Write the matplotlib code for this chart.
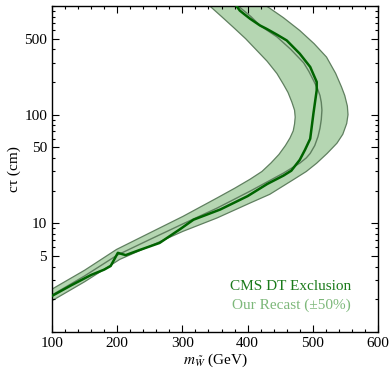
import matplotlib
matplotlib.use("Agg")
import matplotlib.pyplot as plt
from matplotlib.ticker import FixedLocator, LogLocator, NullFormatter, MultipleLocator

plt.rcParams['font.family'] = ['Liberation Serif', 'DejaVu Serif']
plt.rcParams['mathtext.fontset'] = 'stix'

# CMS DT exclusion contour (mass GeV, ctau cm)
cms_m = [100, 130, 160, 180, 190, 201, 213, 235, 265, 296, 317, 358, 400, 430, 455, 467,
         480, 488, 496, 501, 506, 506, 496, 480, 460, 445, 429, 419, 404, 395, 388, 383, 380]
cms_ct = [2.15, 2.7, 3.35, 3.75, 4.05, 5.35, 5.1, 5.7, 6.6, 8.8, 10.8, 13.4, 17.8, 23.0, 27.5, 30.5,
          38.4, 47.4, 60, 103, 168, 200, 275, 364, 482, 545, 617, 662, 762, 840, 908, 1000, 1100]

# Recast band: inner (upper-left) edge and outer (lower-right) edge
inner_m = [100, 150, 199, 250, 301, 353, 380, 404, 422, 436, 448, 458, 465, 470, 472, 473, 472,
           468, 462, 455, 445, 430, 414, 397, 378, 360, 342, 330]
inner_ct = [2.48, 3.7, 5.75, 8.17, 11.6, 17.1, 21, 25.5, 30, 36, 43, 52, 61, 71, 82, 95, 110,
            130, 160, 190, 239, 310, 391, 500, 638, 800, 1000, 1150]
outer_m = [100, 150, 204, 250, 301, 353, 404, 434, 470, 490, 506, 522, 537, 546, 552, 554, 553,
           549, 544, 535, 521, 502, 480, 455, 429, 417]
outer_ct = [1.94, 2.9, 4.66, 6.17, 8.45, 11.2, 15.4, 18.5, 25.2, 30, 35.8, 44, 54.6, 66, 83, 100, 120,
            150, 180, 240, 339, 450, 595, 780, 1000, 1150]

# Recast central curve
cen_m = [100, 150, 200, 250, 301, 353, 404, 455, 480, 490, 496, 503, 508, 511, 513, 514, 513,
         511, 507, 501, 494, 486, 466, 445, 419, 405, 388, 380]
cen_ct = [2.19, 3.28, 5.1, 7.1, 9.9, 13.8, 19.8, 29, 35.8, 40, 44, 52, 63, 75, 90, 110, 130,
          150, 175, 207, 250, 300, 400, 520, 661, 800, 973, 1100]

ytick_vals = [5, 10, 50, 100, 500]
ytick_labels = ['5', '10', '50', '100', '500']
xtick_vals = [100, 200, 300, 400, 500, 600]

fig = plt.figure(figsize=(3.9, 3.73), dpi=100)
ax = fig.add_axes([52/390, 41/373, 326/390, 326/373])

ax.fill(inner_m + outer_m[::-1], inner_ct + outer_ct[::-1],
        facecolor='#b5d6b2', edgecolor='#5f7f5f', linewidth=0.9, zorder=1, joinstyle='round')
ax.plot(cen_m, cen_ct, color='#5f7f5f', linewidth=1.0, zorder=2, solid_joinstyle='round')
ax.plot(cms_m, cms_ct, color='#006400', linewidth=1.8, zorder=3, solid_joinstyle='round')

ax.set_yscale('log')
ax.set_xlim(100, 600)
ax.set_ylim(1, 1000)

ax.yaxis.set_major_locator(FixedLocator(ytick_vals))
ax.set_yticklabels(ytick_labels)
ax.yaxis.set_minor_locator(LogLocator(base=10, subs=(1, 2, 3, 4, 6, 7, 8, 9)))
ax.yaxis.set_minor_formatter(NullFormatter())
ax.xaxis.set_major_locator(FixedLocator(xtick_vals))
ax.xaxis.set_minor_locator(MultipleLocator(20))

ax.tick_params(which='both', direction='in', top=True, right=True, labelsize=11, width=0.8)
ax.tick_params(which='major', length=5)
ax.tick_params(which='minor', length=2.5)
for s in ax.spines.values():
    s.set_linewidth(1.0)

ax.set_xlabel(r'$m_{\tilde{W}}$ (GeV)', fontsize=11, labelpad=1)
ax.set_ylabel('cτ (cm)', fontsize=11, labelpad=2)

ax.text(0.733, 0.139, 'CMS DT Exclusion', transform=ax.transAxes, ha='center', va='center',
        color='#1a7a1a', fontsize=11)
ax.text(0.733, 0.081, 'Our Recast (±50%)', transform=ax.transAxes, ha='center', va='center',
        color='#7db87a', fontsize=11)

fig.savefig('out.png', dpi=100)
